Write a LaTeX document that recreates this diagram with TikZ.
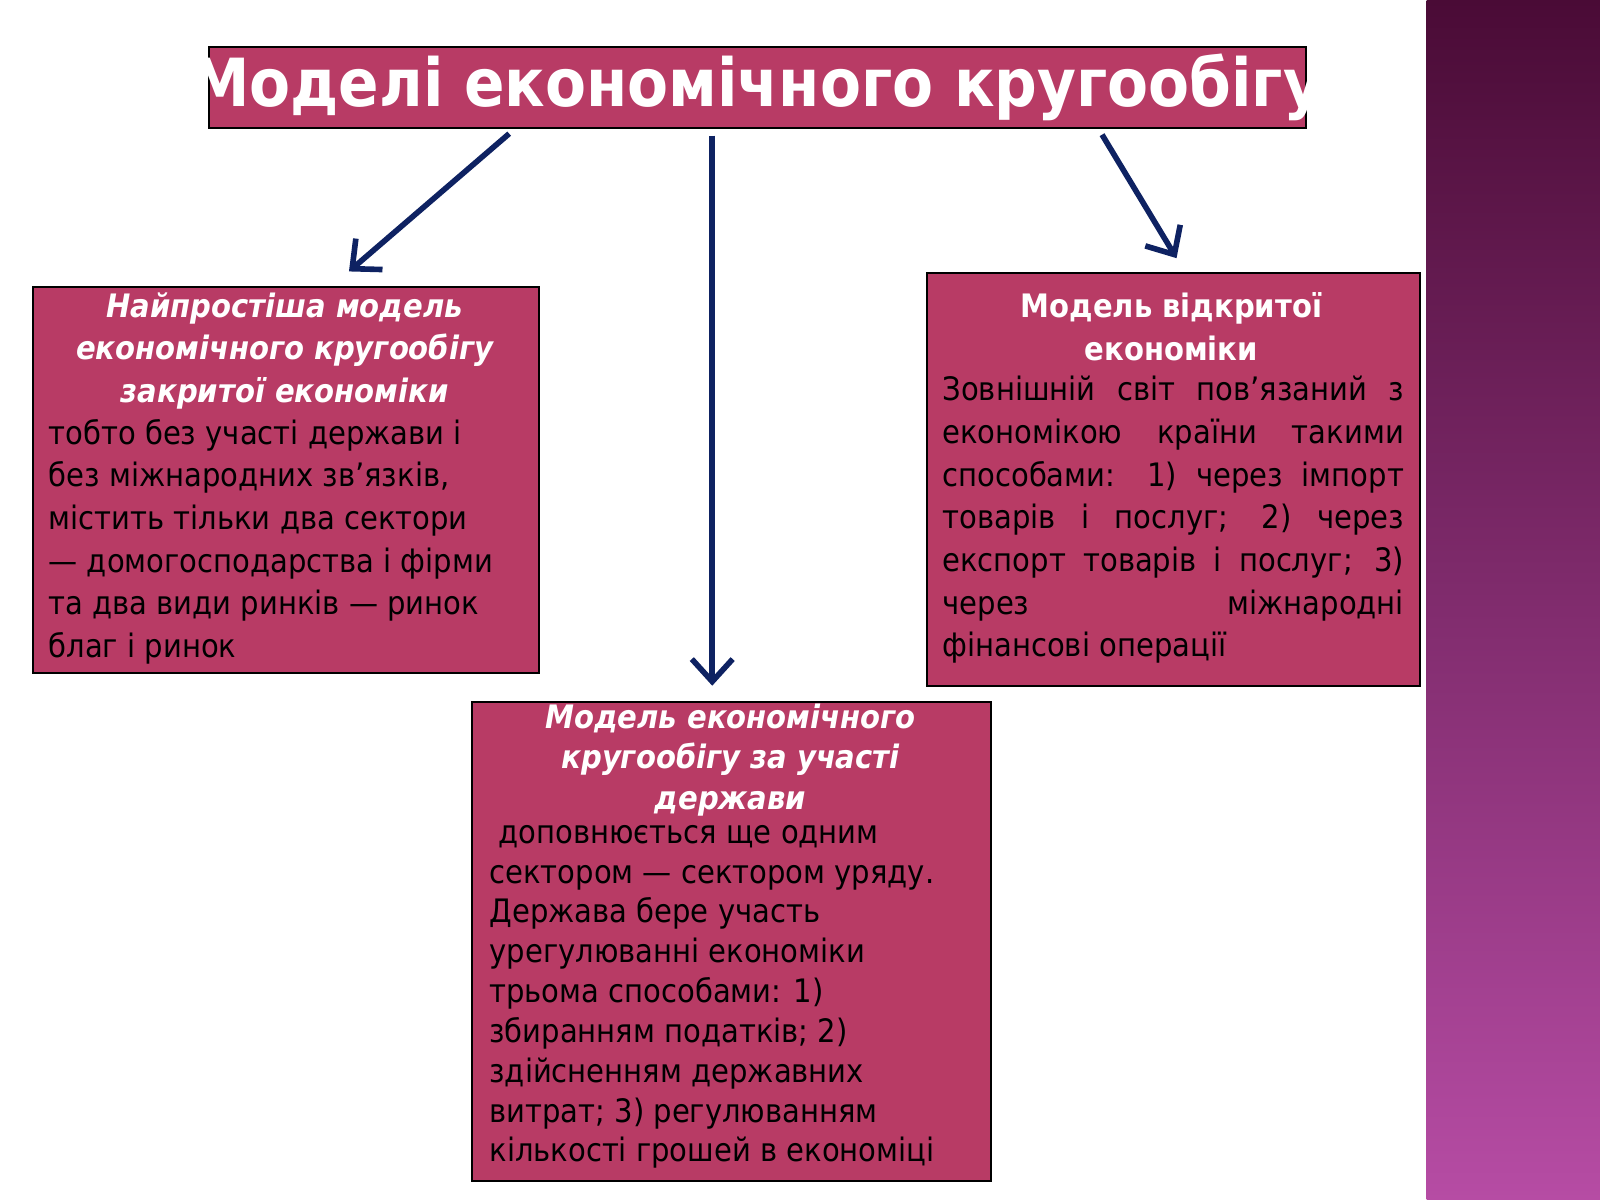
\documentclass[tikz,border=0pt]{standalone}
\usepackage{fontspec}
\setmainfont{DejaVu Sans Condensed}
\usetikzlibrary{arrows.meta}
\definecolor{boxc}{HTML}{B83B65}
\definecolor{arrc}{HTML}{0E2262}
\definecolor{bandtop}{HTML}{4A0B36}
\definecolor{bandbot}{HTML}{B64CA4}
\tikzset{
 boxr/.style={draw=black,line width=0.02cm,fill=boxc},
 arr/.style={draw=arrc,line width=0.055cm,-{Straight Barb[length=0.22cm,width=0.4cm,line width=0.055cm]}},
 txt/.style={inner sep=0,anchor=north west,text=black,font=\fontsize{9pt}{11.9pt}\selectfont},
 hd/.style={inner sep=0,anchor=north,text=white,align=center,font=\fontsize{9pt}{11.3pt}\selectfont\bfseries}
}
\begin{document}
\begin{tikzpicture}[x=0.01cm,y=-0.01cm]
\useasboundingbox[fill=white] (0,0) rectangle (1568,1176);
\shade[top color=bandtop,bottom color=bandbot] (1398,0) rectangle (1568,1176);
\node[boxr,minimum width=10.74cm,minimum height=0.79cm,anchor=north west] (title) at (204,45) {};
\node[text=white,font=\fontsize{18.5pt}{20pt}\selectfont\bfseries] (tt) at (741,86) {Моделі економічного кругообігу};
\node[boxr,minimum width=4.96cm,minimum height=3.78cm,anchor=north west] (left) at (31,280) {};
\node[boxr,minimum width=5.08cm,minimum height=4.69cm,anchor=north west] (mid) at (462,687) {};
\node[boxr,minimum width=4.83cm,minimum height=4.04cm,anchor=north west] (right) at (907,267) {};
\coordinate (a1) at (499,131); \coordinate (b1) at (342,266);
\coordinate (a2) at (698,133); \coordinate (b2) at (698,672);
\coordinate (a3) at (1080,132); \coordinate (b3) at (1153,253);
\draw[arr] (a1) -- (b1);
\draw[arr] (a2) -- (b2);
\draw[arr] (a3) -- (b3);
\node[hd,font=\fontsize{9pt}{11.9pt}\selectfont\bfseries\itshape] (lh) at (279,286) {Найпростіша модель\\економічного кругообігу\\закритої економіки};
\node[txt,align=left] (lt) at (47,410) {тобто без участі держави і\\без міжнародних зв'язків,\\містить тільки два сектори\\— домогосподарства і фірми\\та два види ринків — ринок\\благ і ринок};
\node[hd,font=\fontsize{9pt}{11.3pt}\selectfont\bfseries\itshape] (mh) at (716,689) {Модель економічного\\кругообігу за участі\\держави};
\node[txt,align=left,font=\fontsize{9pt}{11.1pt}\selectfont] (mt) at (479,808) {\ доповнюється ще одним\\сектором — сектором уряду.\\Держава бере участь\\урегулюванні економіки\\трьома способами: 1)\\збиранням податків; 2)\\здійсненням державних\\витрат; 3) регулюванням\\кількості грошей в економіці};
\node[hd,font=\fontsize{9pt}{11.9pt}\selectfont\bfseries] (rh) at (1148,286) {Модель відкритої\\економіки};
\node[txt,text width=4.52cm,align=justify] (rt) at (923,368) {Зовнішній світ пов'язаний з\linebreak економікою країни такими\linebreak способами: 1) через імпорт\linebreak товарів і послуг; 2) через\linebreak експорт товарів і послуг; 3)\linebreak через міжнародні\linebreak фінансові операції};
\end{tikzpicture}
\end{document}
